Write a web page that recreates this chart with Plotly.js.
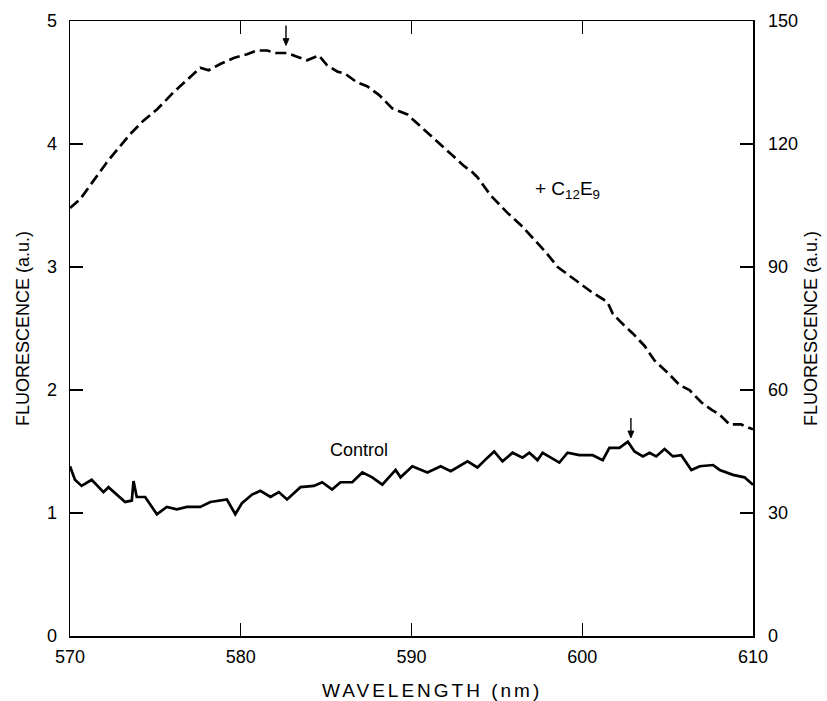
<!DOCTYPE html>
<html>
<head>
<meta charset="utf-8">
<script src="https://cdn.plot.ly/plotly-3.0.1.min.js"></script>
<style>
html,body{margin:0;padding:0;background:#fff;}
#chart{width:827px;height:701px;}
text[data-unformatted^="WAVELENGTH"]{letter-spacing:3px;}
</style>
</head>
<body>
<div id="chart"></div>
<script>
// Wavelength (nm) and fluorescence (a.u.)
const controlWavelength = [570.0,570.29,570.68,571.27,571.96,572.25,573.23,573.62,573.72,573.91,574.40,575.09,575.67,576.26,576.85,577.63,578.22,579.19,579.68,580.07,580.66,581.15,581.74,582.23,582.71,583.50,584.28,584.77,585.35,585.84,586.53,587.12,587.70,588.29,589.07,589.36,590.05,590.93,591.71,592.30,593.28,593.86,594.45,594.84,595.33,595.92,596.50,596.90,597.38,597.68,598.66,599.14,599.83,600.61,601.20,601.59,602.18,602.67,603.06,603.55,603.94,604.33,604.82,605.31,605.80,606.39,606.88,607.66,608.05,608.83,609.5,610.0];
const controlValues = [1.38,1.27,1.22,1.27,1.17,1.21,1.09,1.10,1.26,1.13,1.13,0.99,1.05,1.03,1.05,1.05,1.09,1.11,0.99,1.08,1.15,1.18,1.13,1.17,1.11,1.21,1.22,1.25,1.19,1.25,1.25,1.33,1.29,1.23,1.35,1.29,1.38,1.33,1.38,1.34,1.42,1.37,1.45,1.50,1.42,1.49,1.45,1.49,1.43,1.49,1.41,1.49,1.47,1.47,1.43,1.53,1.53,1.58,1.50,1.46,1.49,1.46,1.52,1.46,1.47,1.35,1.38,1.39,1.35,1.31,1.29,1.23];

const detergentWavelength = [570.0,570.59,571.37,572.15,572.74,573.52,574.30,575.09,576.06,576.85,577.63,578.12,578.80,579.59,580.37,580.95,581.54,582.03,582.71,583.30,583.89,584.57,585.06,585.65,586.13,586.82,587.40,588.09,588.87,589.76,590.64,591.52,592.30,593.09,593.57,593.86,594.65,595.62,596.41,597.09,597.87,598.56,599.24,599.83,600.61,601.20,601.49,601.79,602.27,602.96,603.64,604.23,605.01,605.70,606.28,606.97,607.56,608.04,608.63,609.3,610.0];
const detergentValues = [3.48,3.55,3.70,3.85,3.95,4.08,4.19,4.28,4.42,4.52,4.62,4.60,4.65,4.70,4.73,4.76,4.76,4.74,4.74,4.71,4.68,4.72,4.64,4.59,4.57,4.50,4.47,4.40,4.29,4.24,4.13,4.02,3.92,3.82,3.77,3.73,3.58,3.44,3.34,3.24,3.12,3.00,2.93,2.87,2.79,2.74,2.71,2.62,2.55,2.46,2.36,2.24,2.14,2.04,2.00,1.90,1.84,1.80,1.72,1.72,1.68];

// Peak markers (arrow tips): wavelength and fluorescence
const peakWavelength = [582.65, 602.85];
const peakValues = [4.80, 1.61];

const xTicks = [570,580,590,600,610];
const yTicks = [0,1,2,3,4,5];
const y2Ticks = [0,30,60,90,120,150];

const fontFam = '"Liberation Sans", Arial, Helvetica, sans-serif';

const traces = [
  {x: detergentWavelength, y: detergentValues, type:'scatter', mode:'lines',
   line:{color:'#000', width:2.7, dash:'11px,5px'}, showlegend:false, hoverinfo:'skip'},
  {x: controlWavelength, y: controlValues, type:'scatter', mode:'lines',
   line:{color:'#000', width:2.7}, showlegend:false, hoverinfo:'skip'},
  {x:[570,610], y:[0,0], yaxis:'y2', type:'scatter', mode:'lines',
   line:{width:0}, showlegend:false, hoverinfo:'skip'}
];

const shapes = [];
peakWavelength.forEach((w, i) => {
  shapes.push({type:'line', xref:'x', yref:'y', ysizemode:'pixel', yanchor:peakValues[i],
    x0:w, x1:w, y0:2, y1:20, line:{color:'#000', width:1.4}});
  shapes.push({type:'path', xref:'x', yref:'y', xsizemode:'pixel', ysizemode:'pixel',
    xanchor:w, yanchor:peakValues[i], path:'M-3,7 L0,0 L3,7 Z',
    fillcolor:'#000', line:{color:'#000', width:0.8}});
});

const layout = {
  width:827, height:701,
  margin:{l:70, r:74, t:21, b:65},
  paper_bgcolor:'#fff', plot_bgcolor:'#fff',
  font:{family:fontFam, color:'#000', size:18},
  xaxis:{range:[570,610], tickvals:xTicks, ticktext:xTicks.map(String),
    ticks:'inside', ticklen:13, tickwidth:1.2, tickcolor:'#000',
    showline:true, linecolor:'#000', linewidth:1.5, mirror:'ticks',
    showgrid:false, zeroline:false, tickfont:{size:18}, ticklabelstandoff:4},
  yaxis:{range:[0,5], tickvals:yTicks, ticktext:yTicks.map(String),
    ticks:'inside', ticklen:13, tickwidth:1.2, tickcolor:'#000',
    showline:true, linecolor:'#000', linewidth:1.5,
    showgrid:false, zeroline:false, tickfont:{size:18}, ticklabelstandoff:8,
    title:{text:'FLUORESCENCE (a.u.)', font:{size:18}, standoff:12}},
  yaxis2:{range:[0,150], overlaying:'y', side:'right', tickvals:y2Ticks, ticktext:y2Ticks.map(String),
    ticks:'inside', ticklen:13, tickwidth:1.2, tickcolor:'#000',
    showline:true, linecolor:'#000', linewidth:1.5,
    showgrid:false, zeroline:false, tickfont:{size:18}, ticklabelstandoff:10,
    title:{text:'FLUORESCENCE (a.u.)', font:{size:18}, standoff:7}},
  shapes: shapes,
  annotations:[
    {x:0.53, y:-0.089, xref:'paper', yref:'paper', text:'WAVELENGTH (nm)', showarrow:false,
     xanchor:'center', yanchor:'middle', font:{size:19}},
    {x:597.1, y:3.63, xref:'x', yref:'y', text:'+ C<sub>12</sub>E<sub>9</sub>', showarrow:false,
     xanchor:'left', yanchor:'middle', font:{size:19}},
    {x:586.9, y:1.51, xref:'x', yref:'y', text:'Control', showarrow:false,
     xanchor:'center', yanchor:'middle', font:{size:18}}
  ]
};

Plotly.newPlot('chart', traces, layout, {displayModeBar:false, staticPlot:true});
</script>
</body>
</html>
